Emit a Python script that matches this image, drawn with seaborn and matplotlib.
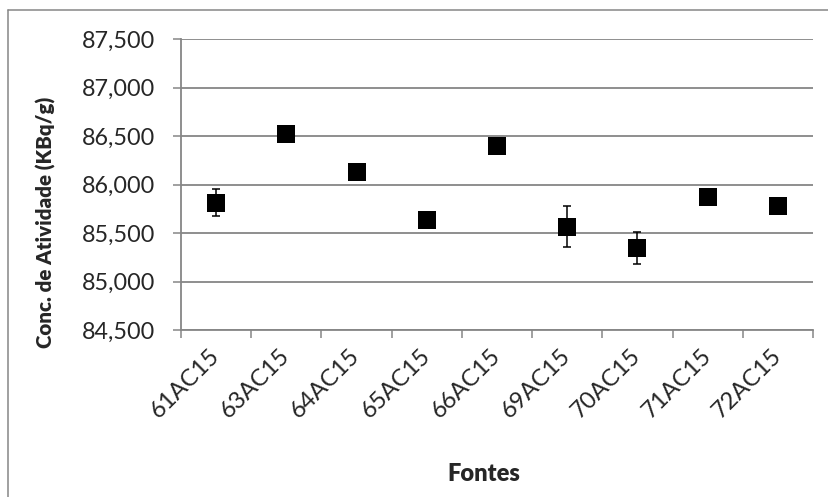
import matplotlib
matplotlib.use("Agg")
import matplotlib.pyplot as plt
from matplotlib.ticker import FuncFormatter, FixedLocator
from matplotlib.lines import Line2D
import numpy as np
import pandas as pd
import seaborn as sns

# Activity concentration per source (mean and uncertainty)
fontes = ["61AC15", "63AC15", "64AC15", "65AC15", "66AC15",
          "69AC15", "70AC15", "71AC15", "72AC15"]
conc = [85815, 86520, 86130, 85635, 86402, 85565, 85343, 85870, 85778]
incerteza = [138, 40, 30, 30, 30, 212, 165, 30, 40]

df = pd.DataFrame({"Fonte": fontes, "Conc": conc, "Erro": incerteza})

sns.set_theme(style="white")
plt.rcParams["font.family"] = ["Lato", "DejaVu Sans"]

grey = "#868686"
fig = plt.figure(figsize=(8.29, 4.97), dpi=100)
ax = fig.add_axes([181 / 829, 1 - 330 / 497, (813 - 181) / 829, (330 - 39.3) / 497])

ax.errorbar(np.arange(len(fontes)), df["Conc"], yerr=df["Erro"], fmt="none",
            ecolor="black", elinewidth=1.1, capsize=2.9, capthick=1.1, zorder=3)
sns.scatterplot(data=df, x="Fonte", y="Conc", marker="s", s=175, color="black",
                edgecolor="black", linewidth=0, ax=ax, zorder=4)

ax.set_xlim(-0.5, len(fontes) - 0.5)
ax.set_ylim(84500, 87500)
ax.set_yticks(np.arange(84500, 87501, 500))
ax.yaxis.set_major_formatter(FuncFormatter(lambda v, p: f"{v:,.0f}"))
ax.grid(axis="y", color=grey, linewidth=1.3)
ax.set_axisbelow(True)

# category boundaries carry the tick marks, centres carry the labels
ax.xaxis.set_major_locator(FixedLocator(np.arange(-0.5, len(fontes), 1.0)))
ax.xaxis.set_major_formatter(FuncFormatter(lambda v, p: ""))
ax.set_xticks(np.arange(len(fontes)), labels=fontes, minor=True)
ax.tick_params(axis="x", which="major", direction="out", length=5.5, width=1.1,
               color=grey, bottom=True)
ax.tick_params(axis="x", which="minor", length=0, pad=16, labelsize=17.2)
for lab in ax.get_xticklabels(minor=True):
    lab.set_rotation(45)
    lab.set_ha("right")
    lab.set_va("center")
    lab.set_rotation_mode("anchor")
ax.tick_params(axis="y", direction="out", length=5.8, width=1.1, color=grey,
               left=True, pad=13, labelsize=16.8)

for side in ["top", "right"]:
    ax.spines[side].set_visible(False)
for side in ["left", "bottom"]:
    ax.spines[side].set_color(grey)
    ax.spines[side].set_linewidth(1.3)

ax.set_xlabel("")
ax.set_ylabel("")
fig.text(46 / 829, 1 - 222 / 497, "Conc. de Atividade (KBq/g)", rotation=90,
         ha="center", va="center", fontsize=14.8, fontweight="heavy")
fig.text(484 / 829, 1 - 474 / 497, "Fontes", ha="center", va="center",
         fontsize=17, fontweight="heavy")

# chart-area frame
fig.add_artist(Line2D([8 / 829, 8 / 829], [0, 1 - 10 / 497], transform=fig.transFigure,
                      color=grey, linewidth=1.1))
fig.add_artist(Line2D([8 / 829, 1], [1 - 10 / 497, 1 - 10 / 497], transform=fig.transFigure,
                      color=grey, linewidth=1.1))

fig.savefig("out.png", dpi=100)
